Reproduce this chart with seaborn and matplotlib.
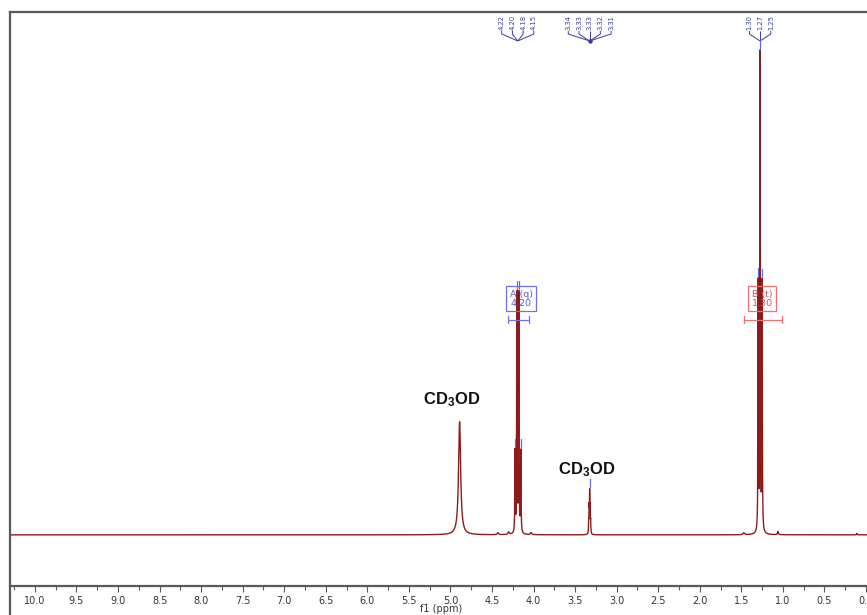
import numpy as np
import pandas as pd
import matplotlib
matplotlib.use("Agg")
import matplotlib.pyplot as plt
from matplotlib.transforms import blended_transform_factory
from matplotlib.ticker import MultipleLocator
import seaborn as sns

# ---- spectrum peak list (ppm, relative height, half-width at half-max in ppm)
peak_ppm = [4.890, 4.223, 4.200, 4.177, 4.153,
            3.337, 3.331, 3.325, 3.319, 3.313,
            1.297, 1.274, 1.250,
            4.43, 4.30, 4.03, 1.47, 1.06, 0.11]
peak_height = [0.237, 0.17, 0.50, 0.50, 0.17,
               0.022, 0.05, 0.08, 0.05, 0.022,
               0.52, 1.00, 0.52,
               0.004, 0.005, 0.004, 0.004, 0.007, 0.003]
peak_hwhm = [0.015, 0.003, 0.003, 0.003, 0.003,
             0.0025, 0.0025, 0.0025, 0.0025, 0.0025,
             0.003, 0.003, 0.003,
             0.01, 0.01, 0.01, 0.01, 0.006, 0.004]

# ---- multiplet peak labels shown above the spectrum
mult_centers = [4.19, 3.325, 1.274]
mult_labels = [["4.22", "4.20", "4.18", "4.15"],
               ["3.34", "3.33", "3.33", "3.32", "3.31"],
               ["1.30", "1.27", "1.25"]]
mult_lines = [[4.223, 4.200, 4.177, 4.153],
              [3.325],
              [1.297, 1.274, 1.250]]

# ---- integrated multiplets
integ_ranges = [(4.31, 4.06), (1.47, 1.01)]
integ_text = ["A (q)\n4.20", "B (t)\n1.30"]
integ_box_x = [4.15, 1.25]

# ---- solvent labels
solvent_text = ["CD$_3$OD", "CD$_3$OD"]
solvent_x = [4.98, 3.36]
solvent_y = [0.283, 0.136]

# ---- tick labels on the ppm axis
tick_ppm = [10.0, 9.5, 9.0, 8.5, 8.0, 7.5, 7.0, 6.5, 6.0, 5.5, 5.0,
            4.5, 4.0, 3.5, 3.0, 2.5, 2.0, 1.5, 1.0, 0.5, 0.0]

# build the spectrum from Lorentzian lines
grid = np.union1d(np.linspace(-0.1, 10.4, 60000), np.array(peak_ppm))
intensity = np.zeros_like(grid)
for p, h, w in zip(peak_ppm, peak_height, peak_hwhm):
    intensity += h / (1.0 + ((grid - p) / w) ** 2)
spec = pd.DataFrame({"ppm": grid, "intensity": intensity})

sns.set_theme(style="white")
plt.rcParams["font.family"] = ["DejaVu Sans"]
plt.rcParams["mathtext.default"] = "regular"

W, H = 867, 615
fig = plt.figure(figsize=(W / 100, H / 100), dpi=100)
ax_left, ax_top = 10, 12
ax = fig.add_axes([ax_left / W, 0.0, 1.0 - ax_left / W, (H - ax_top) / H])

line_color = "#8e1b1b"
sns.lineplot(data=spec, x="ppm", y="intensity", ax=ax, color=line_color,
             lw=1.0, estimator=None, sort=False, errorbar=None)

xmin, xmax = 10.30, -0.012
ax.set_xlim(xmin, xmax)
ax.set_ylim(-0.168, 1.096)

ax_h_px = H - ax_top
def ya(py):
    """axes fraction for a figure pixel row"""
    return (H - py) / ax_h_px

ppm_per_px = (xmin - xmax) / (W - ax_left)

# spines
spine_col = "#5a5a5a"
for s in ["left", "top", "bottom"]:
    ax.spines[s].set_color(spine_col)
    ax.spines[s].set_linewidth(1.6)
ax.spines["right"].set_visible(False)
ax.spines["bottom"].set_position(("axes", ya(586)))

ax.set_yticks([])
ax.set_xticks(tick_ppm)
ax.set_xticklabels([f"{t:.1f}" for t in tick_ppm])
ax.xaxis.set_minor_locator(MultipleLocator(0.25))
ax.tick_params(axis="x", which="major", direction="out", length=4, width=0.8,
               color=spine_col, labelsize=7, labelcolor="#333333", pad=3,
               bottom=True)
ax.tick_params(axis="x", which="minor", direction="out", length=3, width=0.8,
               color=spine_col, bottom=True)
ax.set_xlabel("f1 (ppm)", fontsize=7, color="#333333")
ax.xaxis.set_label_coords((441 - ax_left) / (W - ax_left), ya(604))
ax.xaxis.label.set_va("top")
ax.set_ylabel("")

bt = blended_transform_factory(ax.transData, ax.transAxes)
tree_col = "#3a3a9e"

# multiplet label trees
for c, labs in zip(mult_centers, mult_labels):
    n = len(labs)
    for i, lab in enumerate(labs):
        lx = c - (i - (n - 1) / 2) * 10.7 * ppm_per_px
        ax.text(lx, ya(30), lab, rotation=90, ha="center", va="bottom",
                fontsize=4.9, color=tree_col, transform=bt)
        ax.plot([lx, lx, c], [ya(31), ya(34), ya(41)], color=tree_col,
                lw=0.7, transform=bt, solid_capstyle="butt")
ax.plot([mult_centers[1]], [ya(41)], marker="o", ms=2.2, color=tree_col,
        transform=bt)
ax.plot([mult_centers[2], mult_centers[2]], [ya(44), ya(54)], color=tree_col,
        lw=0.7, ls=(0, (3, 2)), transform=bt)

# small peak-top markers
for lines, c in zip(mult_lines, mult_centers):
    for p in lines:
        h = float(np.interp(p, grid, intensity))
        ax.plot([p, p], [h + 0.004, h + 0.02], color="#6a6ae0", lw=0.9)

# integration boxes and ranges
box_cols = [("#5b5bd6", "#6f6ff0"), ("#e05555", "#f07070")]
for (r0, r1), txt, bx, (tc, ec) in zip(integ_ranges, integ_text, integ_box_x, box_cols):
    ax.text(bx, 0.495, txt, ha="center", va="center", fontsize=6.8, color=tc,
            linespacing=1.05,
            bbox=dict(boxstyle="square,pad=0.35", fc="none", ec=ec, lw=0.9))
    yb = 0.451
    ax.plot([r0, r1], [yb, yb], color=ec, lw=0.9)
    for r in (r0, r1):
        ax.plot([r, r], [yb - 0.007, yb + 0.007], color=ec, lw=0.9)

# solvent labels
for t, x, y in zip(solvent_text, solvent_x, solvent_y):
    ax.text(x, y, t, ha="center", va="center", fontsize=12,
            fontweight="bold", family="Liberation Sans", color="#111111")

fig.savefig("out.png", dpi=100)
